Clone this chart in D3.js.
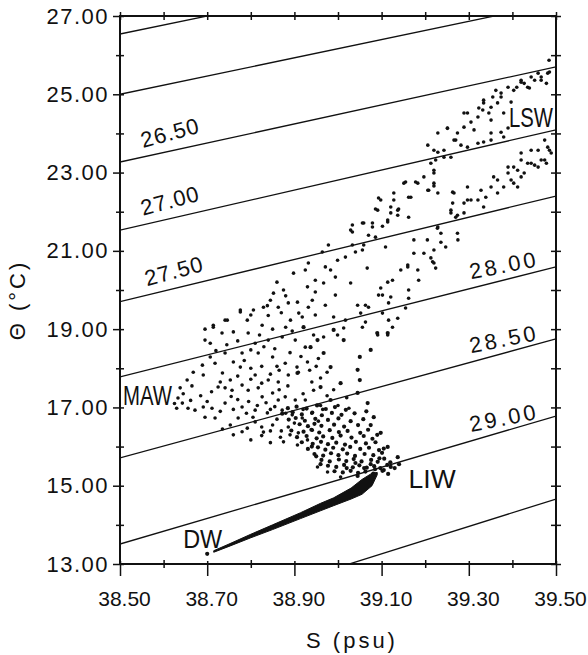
<!DOCTYPE html>
<html>
<head>
<meta charset="utf-8">
<script src="https://cdn.jsdelivr.net/npm/d3@7"></script>
<style>
  body { margin: 0; background: #fff; }
  text { font-family: "Liberation Sans", Arial, sans-serif; fill: #111; }
</style>
</head>
<body>
<div id="chart"></div>
<script>
// axis ticks
const sMajor = [38.5, 38.7, 38.9, 39.1, 39.3, 39.5];
const sMinor = [38.6, 38.8, 39.0, 39.2, 39.4];
const tMajor = [13, 15, 17, 19, 21, 23, 25, 27];
const tMinor = [14, 16, 18, 20, 22, 24, 26];

// isopycnals (sigma-theta), theta read at S = 38.50 and S = 39.50
const isoSigma      = [25.5, 26.0, 26.5, 27.0, 27.5, 28.0, 28.5, 29.0, 29.5];
const isoThetaLeft  = [26.54, 25.00, 23.27, 21.53, 19.70, 17.78, 15.71, 13.51, 11.16];
const isoThetaRight = [28.84, 27.33, 25.70, 24.09, 22.40, 20.59, 18.75, 16.78, 14.66];

// which isopycnals carry a label and the salinity where the label starts
const labelSigma = [26.5, 27.0, 27.5, 28.0, 28.5, 29.0];
const labelS     = [38.553, 38.553, 38.562, 39.305, 39.305, 39.305];

// water mass names and their anchor (S, theta)
const wmNames = ["LSW", "MAW", "LIW", "DW"];
const wmS     = [39.392, 38.507, 39.162, 38.645];
const wmT     = [24.16, 17.05, 14.94, 13.41];

// dense DW -> LIW band: envelope of theta at given salinities
const bandS  = [38.715, 38.75, 38.80, 38.85, 38.914, 38.96, 38.99, 39.03, 39.055, 39.078, 39.09];
const bandLo = [13.30, 13.45, 13.67, 13.88, 14.16, 14.36, 14.49, 14.66, 14.78, 15.00, 15.28];
const bandHi = [13.34, 13.51, 13.76, 14.00, 14.31, 14.55, 14.69, 14.94, 15.16, 15.32, 15.34];

// scattered observations (S, theta)
const mawPoints = [
  [38.714,19.10],[38.695,19.00],[38.741,19.23],[38.776,19.49],[38.800,19.36],[38.826,19.10],[38.838,19.60],[38.863,19.56],[38.886,19.67],[38.910,19.41],[38.932,19.56],
  [38.695,18.72],[38.707,18.64],[38.734,18.90],[38.760,18.93],[38.794,18.90],[38.810,18.64],[38.840,18.72],[38.872,18.80],[38.902,18.72],[38.925,18.54],
  [38.707,18.29],[38.689,18.08],[38.718,18.13],[38.741,18.39],[38.760,18.16],[38.780,18.39],[38.800,18.47],[38.817,18.39],[38.850,18.29],[38.879,18.13],[38.906,18.03],[38.930,18.16],
  [38.668,17.90],[38.654,17.70],[38.691,17.83],[38.735,17.88],[38.753,17.70],[38.776,18.03],[38.800,18.00],[38.810,17.83],[38.840,17.70],[38.863,17.65],[38.886,17.83],[38.909,17.90],
  [38.638,17.50],[38.633,17.24],[38.643,17.11],[38.656,16.98],[38.672,16.93],[38.691,17.01],[38.711,16.98],[38.695,16.75],[38.718,16.73],
  [38.741,17.50],[38.757,17.44],[38.725,17.52],[38.780,17.57],[38.794,17.44],[38.817,17.50],[38.826,17.27],[38.850,17.37],[38.863,17.19],[38.879,17.27],[38.902,17.19],[38.925,17.19],[38.944,17.44],
  [38.753,16.55],[38.771,16.73],[38.792,16.47],[38.810,16.63],[38.829,16.37],[38.850,16.55],[38.868,16.24],[38.886,16.50],[38.909,16.35],[38.930,16.17],[38.941,16.42],
  [38.810,16.93],[38.838,16.86],[38.872,16.93],[38.895,16.81],[38.918,16.73],[38.780,17.01],[38.741,17.11],
  [38.795,17.15],[38.815,17.05],[38.835,17.12],[38.855,17.02],[38.845,16.95],[38.865,17.45],[38.885,17.55],[38.825,17.62],[38.845,17.85],[38.865,17.95],
  [38.800,17.72],[38.770,17.80],[38.755,17.28],[38.770,17.20],[38.790,16.85],[38.860,16.70],[38.880,16.85],[38.900,16.60],[38.920,16.95],[38.940,16.85],
  [38.960,17.05],[38.920,17.35],[38.940,17.65],[38.935,17.95],[38.955,18.25],
  [38.625,17.10],[38.630,16.98],[38.645,17.35],[38.662,17.18],
  [38.760,16.30],[38.800,16.17],[38.845,16.10],[38.907,16.04],[38.953,15.48],[38.976,15.35],[39.006,15.22],
  [38.735,16.45],[38.780,16.38],[38.825,16.28],[38.875,16.12],[38.890,16.30],
  [38.720,18.45],[38.745,18.60],[38.770,18.70],[38.785,18.20],[38.825,18.05],[38.830,18.55],[38.855,18.50],[38.860,18.05],[38.890,18.40],
  [38.895,18.95],[38.915,18.30],[38.880,19.05],[38.850,19.00],[38.820,18.85],[38.730,17.65],[38.710,17.40],[38.685,17.30],[38.665,17.55],
  [38.700,17.15],[38.730,16.90],[38.760,16.95],[38.805,16.75],[38.825,16.50],[38.845,16.40],[38.870,16.40],[38.955,16.65],[38.965,16.95],
  [38.975,17.30],[38.990,17.45],[39.000,17.05],[39.020,17.25],[39.025,16.98],[38.960,17.75],[38.975,17.90],[38.950,18.05]
];

const liwPoints = [
  [38.885,16.98],[38.905,17.02],[38.928,16.97],[38.952,17.05],[38.972,16.96],[38.993,17.01],[39.018,16.94],
  [38.872,16.84],[38.896,16.88],[38.917,16.82],[38.941,16.87],[38.963,16.80],[38.986,16.86],[39.008,16.81],[39.038,16.85],
  [38.887,16.69],[38.903,16.73],[38.924,16.66],[38.948,16.71],[38.977,16.68],[39.001,16.72],[39.029,16.65],[39.058,16.70],
  [38.912,16.57],[38.931,16.52],[38.946,16.58],[38.962,16.53],[38.991,16.56],[39.014,16.51],[39.046,16.55],
  [38.893,16.41],[38.921,16.38],[38.939,16.43],[38.957,16.36],[38.981,16.42],[39.002,16.37],[39.022,16.40],[39.051,16.35],[39.069,16.43],
  [38.906,16.24],[38.928,16.27],[38.951,16.21],[38.966,16.26],[38.987,16.22],[39.006,16.28],[39.031,16.23],[39.059,16.27],[39.079,16.20],
  [38.917,16.11],[38.942,16.07],[38.961,16.12],[38.977,16.06],[38.996,16.10],[39.016,16.05],[39.041,16.12],[39.064,16.08],[39.086,16.11],
  [38.931,15.94],[38.954,15.98],[38.971,15.92],[38.989,15.97],[39.011,15.93],[39.028,15.99],[39.051,15.94],[39.071,15.97],[39.094,15.91],
  [38.946,15.81],[38.966,15.77],[38.984,15.83],[39.001,15.78],[39.021,15.82],[39.039,15.76],[39.061,15.81],[39.081,15.78],[39.101,15.84],
  [38.962,15.66],[38.981,15.62],[39.002,15.67],[39.019,15.63],[39.036,15.68],[39.054,15.62],[39.076,15.66],[39.091,15.61],[39.106,15.69],
  [38.977,15.51],[38.996,15.48],[39.014,15.53],[39.034,15.47],[39.049,15.52],[39.066,15.46],[39.083,15.50],[39.097,15.45],[39.113,15.53],
  [38.992,15.37],[39.011,15.34],[39.029,15.38],[39.046,15.33],[39.063,15.36],[39.081,15.31],[39.102,15.38],
  [39.114,18.90],[39.090,18.90],[39.075,18.47],[39.050,18.29],[39.045,17.96],[39.050,17.70],[39.045,17.37],[39.006,17.62],[39.068,17.11],
  [39.082,16.75],[39.098,16.35],[39.114,15.99],[39.137,15.73],[39.121,15.48],[39.105,15.40],[38.983,18.03],[38.967,18.39],[38.953,18.72],
  [39.013,18.72],[38.990,18.98],[38.921,19.05],[38.937,18.54],[38.907,17.88],[38.960,17.52],[38.983,17.19],
  [39.120,15.60],[39.130,15.45],[39.115,15.30],[39.140,15.55],[38.700,13.26],
  [39.045,15.25],[39.060,15.45],[39.075,15.55],[39.085,15.42],[39.020,15.45],[39.040,15.58],[38.960,15.55],[38.950,15.75],[38.940,16.00],
  [39.095,15.70],[39.105,15.95],[39.090,16.30],[39.075,16.55],[39.065,16.90]
];

const midPoints = [
  [38.898,20.43],[38.875,20.00],[38.852,19.92],[38.829,19.56],[38.806,19.49],[38.792,19.23],[38.776,19.44],[38.746,19.23],[38.714,19.05],
  [38.891,19.23],[38.845,19.74],[38.907,19.69],[38.860,20.20],[38.880,19.85],[38.840,19.35],[38.870,19.42],
  [39.151,22.73],[39.178,22.76],[39.208,22.55],[39.220,22.66],[39.167,22.37],[39.093,22.35],[39.128,22.48],[39.263,22.50],[39.263,22.22],
  [39.121,22.12],[39.139,22.07],[39.086,22.07],[39.137,21.91],[39.162,21.86],[39.259,21.97],[39.270,21.86],[39.114,21.74],[39.079,21.71],
  [39.059,21.71],[39.033,21.66],[39.102,21.63],[39.033,21.48],[39.228,21.58],[39.236,21.45],[39.070,21.40],[39.086,21.35],[39.205,21.28],
  [39.236,21.22],[39.247,21.10],[39.275,21.28],[39.059,21.15],[39.109,21.10],[39.220,21.02],[38.978,21.15],[39.033,21.15],[39.056,21.02],
  [39.040,20.97],[38.964,20.97],[39.017,20.84],[38.999,20.76],[39.174,20.94],[39.213,20.82],[39.217,20.72],[39.183,20.51],[39.160,20.64],
  [39.224,20.56],[39.144,20.51],[38.932,20.69],[38.925,20.51],[38.971,20.59],[38.983,20.51],[38.994,20.33],[39.067,20.56],[39.185,20.25],
  [39.125,20.25],[39.114,20.20],[39.029,20.18],[38.948,20.25],[38.967,20.18],[38.930,20.08],[39.162,20.00],[39.098,20.05],[38.948,19.95],
  [38.994,19.87],[39.093,19.87],[39.102,19.87],[39.121,19.82],[38.941,19.74],[39.162,19.79],[38.971,19.61],[39.045,19.61],[39.063,19.61],
  [39.070,19.56],[39.116,19.67],[39.155,19.54],[38.918,19.31],[38.948,19.36],[38.990,19.31],[39.052,19.41],[39.102,19.41],[39.063,19.18],
  [39.017,19.23],[39.116,19.23],[39.137,19.28],[38.944,18.85],[38.967,18.80],[38.999,18.85],[39.013,19.03],[39.056,19.05],[39.091,18.85],
  [39.114,18.85],[39.125,19.05]
];

const lswUpper = [
  [39.029,21.53],[39.056,21.71],[39.079,21.61],[39.091,22.04],[39.114,21.79],[39.121,21.97],[39.137,22.04],[39.162,22.37],[39.098,22.30],
  [39.128,22.30],[39.155,22.76],[39.183,22.73],[39.206,22.55],[39.220,22.99],[39.197,22.89],[39.213,23.24],[39.206,23.70],[39.229,23.52],
  [39.243,23.39],[39.251,24.13],[39.266,23.83],[39.274,24.01],[39.289,24.16],[39.297,24.52],[39.321,24.42],[39.332,24.60],[39.334,24.85],
  [39.351,24.67],[39.362,25.10],[39.374,24.93],[39.390,25.18],[39.403,25.10],[39.420,25.36],[39.435,25.18],[39.443,25.44],[39.466,25.36],
  [39.481,25.54],[39.484,25.87],[39.459,25.54],[39.351,24.34],[39.380,24.52],[39.427,25.28],[39.321,23.75],[39.351,23.83],[39.380,23.91],
  [39.297,23.65],[39.229,24.01],[39.251,24.14],[39.270,23.83],[39.289,24.52],[39.305,24.29],[39.312,24.09],[39.323,24.65],[39.334,24.78],
  [39.346,24.52],[39.355,24.93],[39.366,24.78],[39.374,25.03],[39.410,25.18],[39.420,25.31],[39.439,25.16],[39.451,25.36],[39.466,25.44],
  [39.478,25.28],[39.485,25.57],[39.397,24.80],[39.374,24.03],[39.390,24.14],[39.351,24.01],[39.334,23.78],[39.282,23.70],[39.243,23.57],
  [39.220,23.57],[39.259,23.39],[39.224,23.32]
];

const lswLower = [
  [39.229,22.48],[39.259,22.04],[39.266,22.48],[39.289,21.97],[39.297,22.30],[39.321,22.30],[39.351,22.63],[39.357,22.89],[39.380,22.63],
  [39.397,22.81],[39.412,23.06],[39.427,22.99],[39.443,23.24],[39.459,23.14],[39.474,23.32],[39.489,23.50],[39.481,23.65],[39.390,23.14],
  [39.420,23.50],[39.459,23.57],[39.474,23.83],[39.366,22.48],[39.412,22.63],[39.334,22.12],[39.274,21.45],[39.229,21.61],[39.174,21.28],
  [39.197,20.94],[39.160,20.59],[39.220,20.69],
  [39.390,22.99],[39.403,23.14],[39.420,23.32],[39.435,23.24],[39.451,23.19],[39.466,23.32],[39.478,23.24],[39.485,23.57],[39.443,23.57],
  [39.366,22.81],[39.328,22.55],[39.339,22.37],[39.305,22.30],[39.289,22.22],[39.297,22.63],[39.274,21.91],[39.403,22.73],[39.420,22.89],
  [39.220,22.73],[39.220,23.06]
];

// layout
const width = 588, height = 655;
const x = d3.scaleLinear().domain([38.5, 39.5]).range([120, 556]);
const y = d3.scaleLinear().domain([13, 27]).range([564, 16]);
const ink = "#111";

const svg = d3.select("#chart").append("svg")
  .attr("width", width).attr("height", height);

svg.append("clipPath").attr("id", "plot")
  .append("rect")
  .attr("x", x(38.5)).attr("y", y(27))
  .attr("width", x(39.5) - x(38.5)).attr("height", y(13) - y(27));

const plot = svg.append("g").attr("clip-path", "url(#plot)");

// isopycnal lines
const isoLines = isoSigma.map((s, i) => ({ sigma: s, pts: [[38.5, isoThetaLeft[i]], [39.5, isoThetaRight[i]]] }));
const line = d3.line().x(d => x(d[0])).y(d => y(d[1]));
plot.selectAll("path.iso")
  .data(isoLines)
  .join("path")
  .attr("class", "iso")
  .attr("d", d => line(d.pts))
  .attr("fill", "none")
  .attr("stroke", ink)
  .attr("stroke-width", 1.3);

// DW -> LIW dense band
const band = d3.area()
  .x((d, i) => x(bandS[i]))
  .y0((d, i) => y(bandLo[i]))
  .y1((d, i) => y(bandHi[i]));
plot.append("path")
  .attr("d", band(bandS))
  .attr("fill", ink)
  .attr("stroke", ink)
  .attr("stroke-width", 1)
  .attr("stroke-linejoin", "round");

// scatter
const spread = [].concat(mawPoints, midPoints, lswUpper, lswLower);
plot.selectAll("circle.obs")
  .data(spread)
  .join("circle")
  .attr("class", "obs")
  .attr("cx", d => x(d[0]))
  .attr("cy", d => y(d[1]))
  .attr("r", 1.8)
  .attr("fill", ink);

plot.selectAll("circle.liw")
  .data(liwPoints)
  .join("circle")
  .attr("class", "liw")
  .attr("cx", d => x(d[0]))
  .attr("cy", d => y(d[1]))
  .attr("r", 2.1)
  .attr("fill", ink);

// isopycnal labels
labelSigma.forEach((s, i) => {
  const k = isoSigma.indexOf(s);
  const sx = labelS[i];
  const ty = isoThetaLeft[k] + (isoThetaRight[k] - isoThetaLeft[k]) * (sx - 38.5);
  const px = x(sx), py = y(ty) - 9;
  const right = sx > 39;
  svg.append("text")
    .attr("transform", `translate(${px},${py}) rotate(${right ? -11 : -15})`)
    .attr("font-size", 22)
    .attr("letter-spacing", right ? 3 : 1)
    .text(s.toFixed(2));
});

// water mass labels
const wmSize = { LSW: [27, 44], MAW: [27, 49], LIW: [25, 47], DW: [25, 39] };
wmNames.forEach((n, i) => {
  svg.append("text")
    .attr("x", x(wmS[i]))
    .attr("y", y(wmT[i]))
    .attr("font-size", wmSize[n][0])
    .attr("textLength", wmSize[n][1])
    .attr("lengthAdjust", "spacingAndGlyphs")
    .text(n);
});

// frame
svg.append("rect")
  .attr("x", x(38.5)).attr("y", y(27))
  .attr("width", x(39.5) - x(38.5)).attr("height", y(13) - y(27))
  .attr("fill", "none").attr("stroke", ink).attr("stroke-width", 2);

function styleAxis(g) {
  g.select(".domain").remove();
  g.selectAll(".tick line").attr("stroke", ink).attr("stroke-width", 1.5);
}

// bottom axis: labelled ticks point outward, minor ticks cross
svg.append("g")
  .attr("transform", `translate(0,${y(13)})`)
  .call(d3.axisBottom(x).tickValues(sMajor).tickSize(12).tickPadding(15).tickFormat(d3.format(".2f")))
  .call(styleAxis)
  .call(g => g.selectAll(".tick line").attr("y1", -3))
  .call(g => g.selectAll(".tick text").attr("font-size", 21).attr("dx", 4).attr("font-family", "Liberation Sans, Arial, sans-serif").attr("fill", ink));

svg.append("g")
  .attr("transform", `translate(0,${y(13)})`)
  .call(d3.axisBottom(x).tickValues(sMinor).tickSize(4).tickFormat(""))
  .call(styleAxis)
  .call(g => g.selectAll(".tick line").attr("y1", -4));

// top axis
svg.append("g")
  .attr("transform", `translate(0,${y(27)})`)
  .call(d3.axisTop(x).tickValues(sMajor.concat(sMinor)).tickSize(4).tickFormat(""))
  .call(styleAxis)
  .call(g => g.selectAll(".tick line").attr("y1", 4));

// left axis
svg.append("g")
  .attr("transform", `translate(${x(38.5)},0)`)
  .call(d3.axisLeft(y).tickValues(tMajor).tickSize(7).tickPadding(4).tickFormat(d3.format(".2f")))
  .call(styleAxis)
  .call(g => g.selectAll(".tick line").attr("x1", 4))
  .call(g => g.selectAll(".tick text").attr("font-size", 22).attr("letter-spacing", 1.5).attr("font-family", "Liberation Sans, Arial, sans-serif").attr("fill", ink));

svg.append("g")
  .attr("transform", `translate(${x(38.5)},0)`)
  .call(d3.axisLeft(y).tickValues(tMinor).tickSize(4).tickFormat(""))
  .call(styleAxis)
  .call(g => g.selectAll(".tick line").attr("x1", 4));

// right axis
svg.append("g")
  .attr("transform", `translate(${x(39.5)},0)`)
  .call(d3.axisRight(y).tickValues(tMajor.concat(tMinor)).tickSize(5).tickFormat(""))
  .call(styleAxis)
  .call(g => g.selectAll(".tick line").attr("x1", -5));

// axis titles
svg.append("text")
  .attr("x", 352).attr("y", 648)
  .attr("text-anchor", "middle")
  .attr("font-size", 22)
  .attr("letter-spacing", 3)
  .text("S (psu)");

svg.append("text")
  .attr("transform", "translate(25,300) rotate(-90)")
  .attr("text-anchor", "middle")
  .attr("font-size", 22)
  .attr("letter-spacing", 3)
  .text("Θ (°C)");
</script>
</body>
</html>
